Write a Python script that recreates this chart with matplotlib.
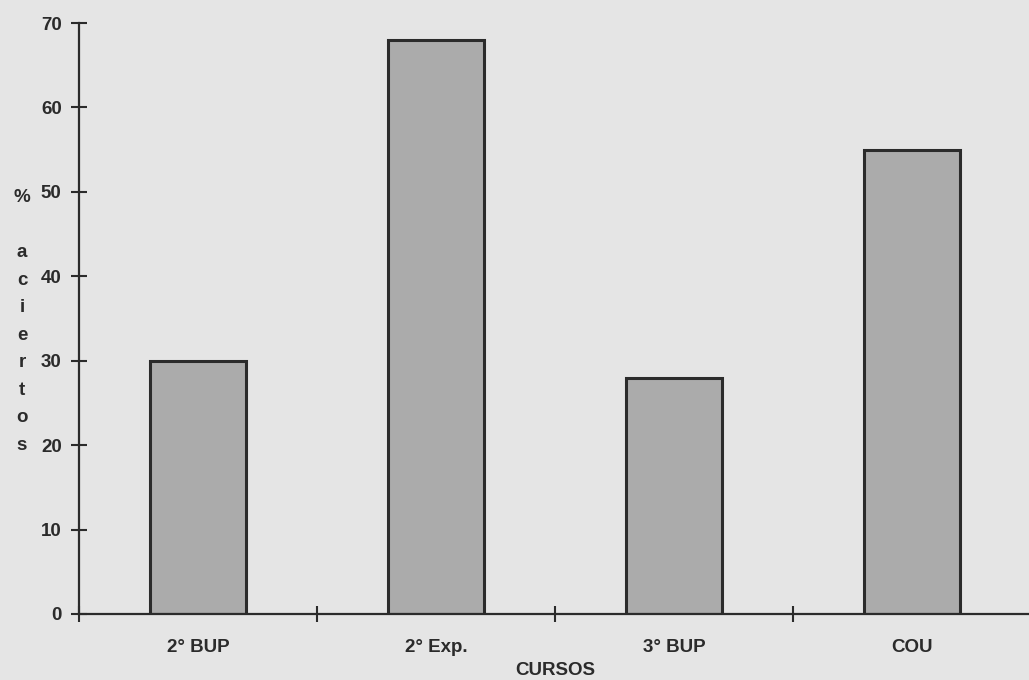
import matplotlib.pyplot as plt
from matplotlib.ticker import FixedLocator, MultipleLocator

cursos = ['2° BUP', '2° Exp.', '3° BUP', 'COU']
aciertos = [30, 68, 28, 55]

bg = '#e5e5e5'
ink = '#2b2b2b'
fs = 13.5

plt.rcParams['font.family'] = ['Liberation Sans', 'DejaVu Sans']
plt.rcParams['font.weight'] = 'bold'

fig = plt.figure(figsize=(10.29, 6.80), dpi=100, facecolor=bg)
ax = fig.add_axes([79 / 1029, 66 / 680, 952 / 1029, 591 / 680], facecolor=bg)

ax.bar(range(len(cursos)), aciertos, width=0.4, color='#ababab',
       edgecolor=ink, linewidth=2.2, zorder=2)

ax.set_xlim(-0.5, 3.5)
ax.set_ylim(0, 70)
ax.yaxis.set_major_locator(MultipleLocator(10))

ax.set_xticks(range(len(cursos)))
ax.set_xticklabels(cursos)
ax.xaxis.set_minor_locator(FixedLocator([-0.5, 0.5, 1.5, 2.5]))

ax.tick_params(axis='x', which='major', length=0, pad=18, labelsize=fs,
               colors=ink)
ax.tick_params(axis='x', which='minor', direction='inout', length=11,
               width=1.5, color=ink)
ax.tick_params(axis='y', direction='inout', length=11, width=1.5, pad=7,
               labelsize=fs, colors=ink)

for s in ['top', 'right']:
    ax.spines[s].set_visible(False)
for s in ['left', 'bottom']:
    ax.spines[s].set_color(ink)
    ax.spines[s].set_linewidth(1.6)
    ax.spines[s].set_zorder(3)

ax.set_xlabel('CURSOS', fontsize=fs, fontweight='bold', color=ink,
              va='center')
ax.xaxis.set_label_coords(0.5, -0.096)

# vertical stacked y label
fig.text(22 / 1029, 1 - 189 / 680, '%\n\na\nc\ni\ne\nr\nt\no\ns',
         ha='center', va='top', fontsize=fs, fontweight='bold',
         color=ink, linespacing=1.81)

fig.savefig('out.png', dpi=100, facecolor=bg)
